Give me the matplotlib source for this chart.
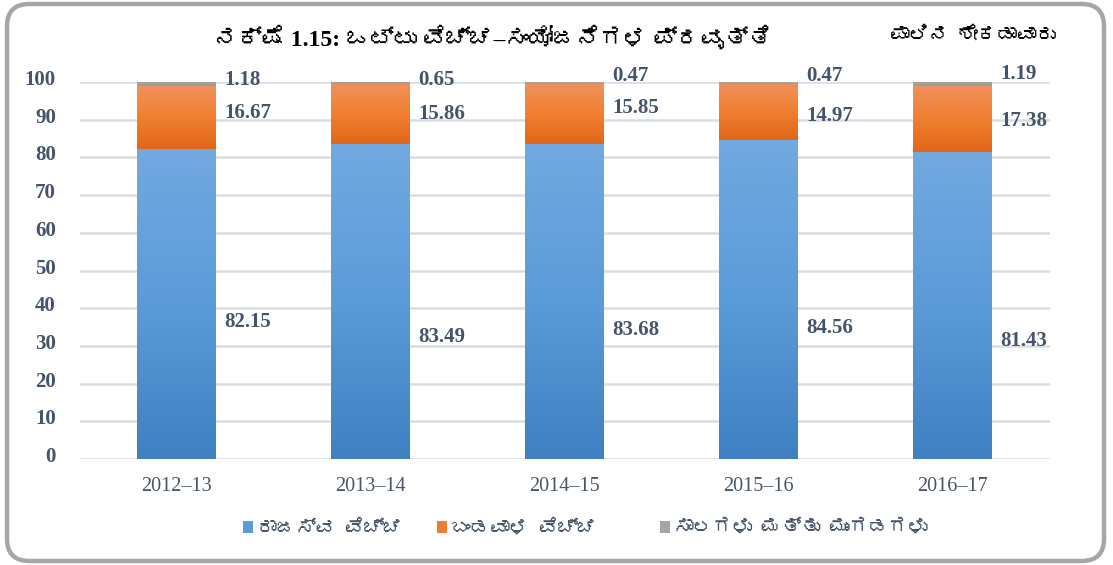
import numpy as np
import matplotlib
matplotlib.use("Agg")
import matplotlib.pyplot as plt
from matplotlib import font_manager as fm
from matplotlib.ft2font import FT2Font
from matplotlib.patches import FancyBboxPatch, Rectangle
from matplotlib.colors import LinearSegmentedColormap
from matplotlib.transforms import ScaledTranslation

# ---------------- data ----------------
years = ["2012–13", "2013–14", "2014–15", "2015–16", "2016–17"]
revenue = [82.15, 83.49, 83.68, 84.56, 81.43]
capital = [16.67, 15.86, 15.85, 14.97, 17.38]
loans = [1.18, 0.65, 0.47, 0.47, 1.19]
series_names = ["ರಾಜಸ್ವ ವೆಚ್ಚ", "ಬಂಡವಾಳ ವೆಚ್ಚ", "ಸಾಲಗಳು ಮತ್ತು ಮುಂಗಡಗಳು"]
title_text = "ನಕ್ಷೆ 1.15: ಒಟ್ಟು ವೆಚ್ಚ–ಸಂಯೋಜನೆಗಳ ಪ್ರವೃತ್ತಿ"
unit_text = "ಪಾಲಿನ ಶೇಕಡಾವಾರು"
yticks = [0, 10, 20, 30, 40, 50, 60, 70, 80, 90, 100]

# label placement (layout only)
rev_label_y = [36.3, 32.4, 34.2, 34.7, 31.3]
cap_label_y = [91.8, 91.5, 93.1, 91.0, 89.7]
loan_label_y = [100.6, 100.6, 101.6, 101.6, 102.1]

# ---------------- fonts ----------------
kn_font = None
for f in fm.fontManager.ttflist:
    try:
        ft = FT2Font(f.fname)
        if 0x0C95 in ft.get_charmap():
            kn_font = f.name
            break
    except Exception:
        pass
kn_family = ([kn_font] if kn_font else []) + ["DejaVu Sans"]
serif = ["Liberation Serif", "DejaVu Serif"]
title_family = ["Liberation Serif"] + ([kn_font] if kn_font else []) + ["DejaVu Sans"]

SLATE = "#44546A"
BLUE, ORANGE, GRAY = "#5B9BD5", "#ED7D31", "#A5A5A5"

W, H = 1113, 565
fig = plt.figure(figsize=(W / 100, H / 100), dpi=100)
fig.patch.set_facecolor("white")

# rounded border
border = FancyBboxPatch((7 / W, 4 / H), 1097 / W, 557 / H,
                        boxstyle="round,pad=0,rounding_size=0.02",
                        transform=fig.transFigure, fill=False,
                        edgecolor="#A6A6A6", linewidth=3.2,
                        mutation_aspect=W / H)
fig.patches.append(border)

ax = fig.add_axes([79.5 / W, 1 - 459 / H, 970 / W, 377 / H])
x = np.arange(len(years))
w = 0.407

b1 = ax.bar(x, revenue, width=w, color=BLUE, zorder=2)
b2 = ax.bar(x, capital, width=w, bottom=revenue, color=ORANGE, zorder=2)
bottom3 = np.array(revenue) + np.array(capital)
b3 = ax.bar(x, loans, width=w, bottom=bottom3, color=GRAY, zorder=2)

# gradients
cm_blue = LinearSegmentedColormap.from_list("b", ["#3F80C2", "#5B9BD9", "#72A9E0"])
cm_orng = LinearSegmentedColormap.from_list("o", ["#E2661A", "#F07F30", "#F0915C"])
cm_gray = LinearSegmentedColormap.from_list("g", ["#9A9A9A", "#A8A8A8"])
grad = np.linspace(0, 1, 256).reshape(-1, 1)
for bars, cmap in ((b1, cm_blue), (b2, cm_orng), (b3, cm_gray)):
    for p in bars:
        x0, y0, ww, hh = p.get_x(), p.get_y(), p.get_width(), p.get_height()
        im = ax.imshow(grad, cmap=cmap, origin="lower", aspect="auto",
                       extent=(x0, x0 + ww, y0, y0 + hh), zorder=2.5,
                       interpolation="bilinear")
        im.set_clip_path(p)

ax.set_xlim(-0.5, len(years) - 0.5)
ax.set_ylim(0, 100)
ax.set_yticks(yticks)
ax.yaxis.grid(True, color="#D9DEE4", linewidth=1.8, zorder=0)
ax.set_axisbelow(True)
for s in ax.spines.values():
    s.set_visible(False)
ax.tick_params(axis="both", length=0)
ax.tick_params(axis="y", pad=17)
ax.tick_params(axis="x", pad=13)
ax.set_xticks(x)
ax.set_xticklabels(years, family=serif, fontsize=14.5, color="#4A5566")
shift_up = ScaledTranslation(0, 4.5 / 100, fig.dpi_scale_trans)
for t in ax.get_yticklabels():
    t.set_family(serif)
    t.set_fontweight("bold")
    t.set_fontsize(15)
    t.set_color(SLATE)
    t.set_transform(t.get_transform() + shift_up)

# data labels
lab_kw = dict(family=serif, fontweight="bold", fontsize=15, color=SLATE,
              ha="left", va="center", annotation_clip=False, zorder=5,
              textcoords="offset points")
for i in range(len(years)):
    xr = x[i] + w / 2
    ax.annotate(f"{revenue[i]:.2f}", (xr, rev_label_y[i]), xytext=(6, 0), **lab_kw)
    ax.annotate(f"{capital[i]:.2f}", (xr, cap_label_y[i]), xytext=(6, 0), **lab_kw)
    ax.annotate(f"{loans[i]:.2f}", (xr, loan_label_y[i]), xytext=(6, 0), **lab_kw)

# titles
fig.text(493 / W, 1 - 38 / H, title_text, family=title_family,
         fontweight="bold", fontsize=17, color="black", ha="center", va="center")
fig.text(973 / W, 1 - 34 / H, unit_text, family=kn_family,
         fontweight="bold", fontsize=14, color="black", ha="center", va="center")

# legend (manual layout)
leg_x = [243, 437, 660]
for lx, name, col in zip(leg_x, series_names, (BLUE, ORANGE, GRAY)):
    fig.patches.append(Rectangle((lx / W, 1 - 533 / H), 10 / W, 12 / H,
                                 transform=fig.transFigure, facecolor=col,
                                 edgecolor="none"))
    fig.text((lx + 14) / W, 1 - 527 / H, name, family=kn_family,
             fontweight="bold", fontsize=14, color=SLATE, ha="left", va="center")

fig.savefig("out.png", dpi=100, facecolor="white")
